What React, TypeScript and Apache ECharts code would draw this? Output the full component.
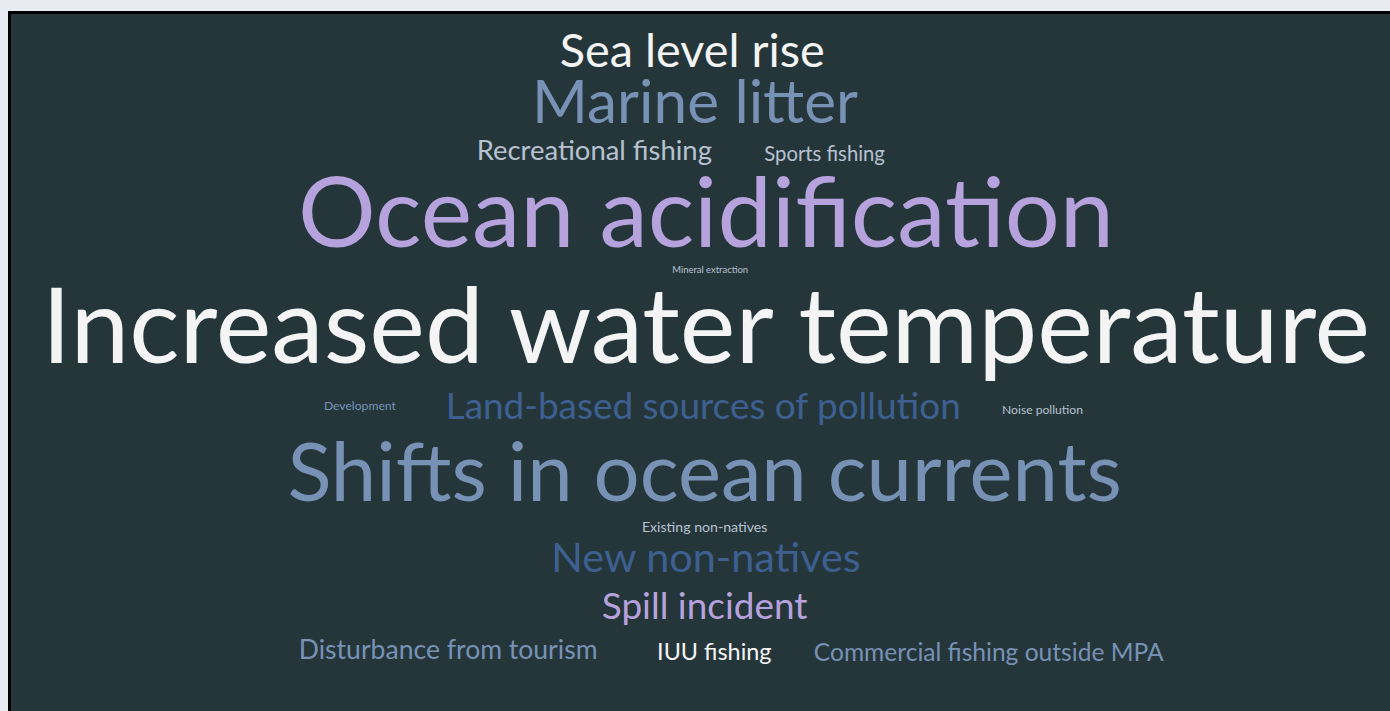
import React, { useEffect, useRef } from "react";
import * as echarts from "echarts";

// Word cloud terms and their weights
const words = [
  "Sea level rise",
  "Marine litter",
  "Recreational fishing",
  "Sports fishing",
  "Ocean acidification",
  "Mineral extraction",
  "Increased water temperature",
  "Development",
  "Land-based sources of pollution",
  "Noise pollution",
  "Shifts in ocean currents",
  "Existing non-natives",
  "New non-natives",
  "Spill incident",
  "Disturbance from tourism",
  "IUU fishing",
  "Commercial fishing outside MPA",
];
const weights = [52, 67, 30.5, 22.5, 108, 10.5, 117, 13.5, 41, 13.5, 90.5, 15.7, 46, 41, 29.5, 26, 27.3];
// layout positions of each word (percent of the canvas)
const layoutX = [49.4, 49.6, 42.3, 59.0, 50.4, 50.7, 50.4, 25.3, 50.2, 74.8, 50.3, 50.3, 50.4, 50.3, 31.7, 51.0, 70.9];
const layoutY = [5.0, 12.3, 19.5, 19.9, 28.0, 36.7, 44.2, 56.1, 56.1, 56.8, 65.4, 73.5, 77.8, 84.8, 91.1, 91.4, 91.4];
const colorGroups = [0, 1, 3, 3, 2, 3, 0, 1, 4, 3, 1, 3, 4, 2, 1, 0, 1];

const palette = ["#f4f4f4", "#7892b6", "#b6a2dc", "#b7c2d1", "#3d6090"];

export default function App() {
  const ref = useRef<HTMLDivElement>(null);
  useEffect(() => {
    const chart = echarts.init(ref.current!, null, { renderer: "svg" });
    const sizeScale = 0.9;
    chart.setOption({
      animation: false,
      backgroundColor: "#25363b",
      grid: { left: 0, right: 0, top: 0, bottom: 0 },
      xAxis: { type: "value", min: 0, max: 100, show: false },
      yAxis: { type: "value", min: 0, max: 100, inverse: true, show: false },
      series: [
        {
          type: "scatter",
          symbolSize: 0,
          silent: true,
          itemStyle: { opacity: 1 },
          label: {
            show: true,
            position: "inside",
            formatter: "{b}",
            opacity: 1,
            fontFamily: "Lato, 'Open Sans', sans-serif",
          },
          data: words.map((w, i) => {
            const fs = weights[i] * sizeScale;
            return {
              name: w,
              value: [layoutX[i], layoutY[i], weights[i]],
              label: {
                fontSize: fs,
                lineHeight: Math.round(fs * 0.9),
                color: palette[colorGroups[i]],
              },
            };
          }),
        },
      ],
    });
    return () => chart.dispose();
  }, []);
  return (
    <div style={{ position: "fixed", inset: 0, background: "#e8ebf1" }}>
      <div
        style={{
          position: "fixed",
          left: 8,
          top: 11,
          width: 1400,
          height: 720,
          border: "3px solid #000",
          boxSizing: "border-box",
          background: "#25363b",
        }}
      >
        <div ref={ref} style={{ width: 1379, height: 697 }} />
      </div>
    </div>
  );
}
